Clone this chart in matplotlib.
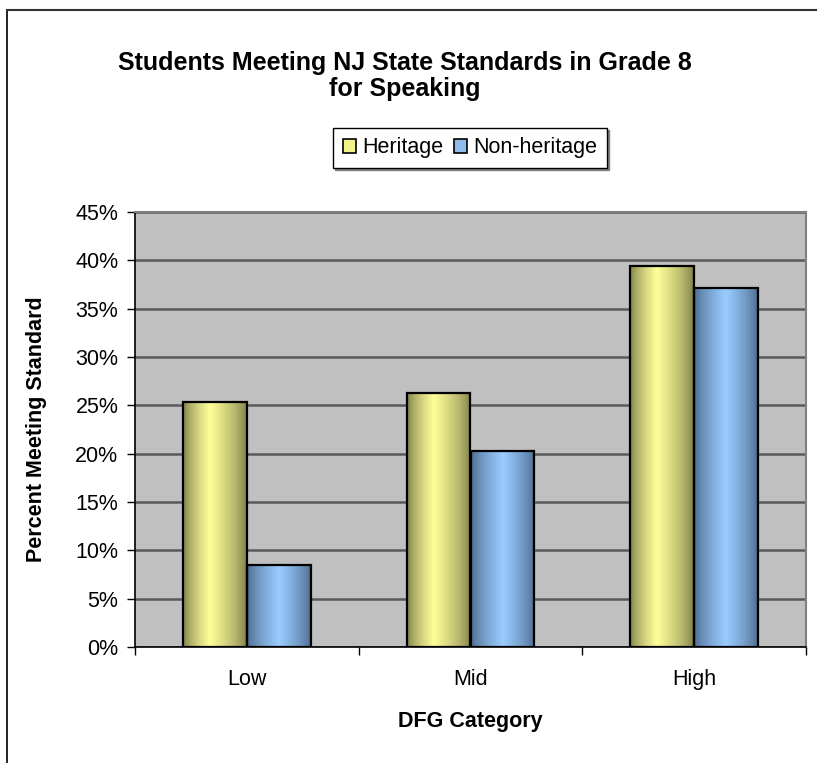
import numpy as np
import matplotlib
matplotlib.use("Agg")
import matplotlib.pyplot as plt
from matplotlib.patches import Patch
from matplotlib.lines import Line2D
from matplotlib.colors import to_rgb

plt.rcParams['font.family'] = ['Liberation Sans', 'DejaVu Sans']

categories = ["Low", "Mid", "High"]
series_names = ["Heritage", "Non-heritage"]
heritage = [25.3, 26.3, 39.4]
non_heritage = [8.5, 20.3, 37.1]
y_ticks = [0, 5, 10, 15, 20, 25, 30, 35, 40, 45]
y_tick_labels = [f"{t}%" for t in y_ticks]

title_lines = ["Students Meeting NJ State Standards in Grade 8", "for Speaking"]
x_label = "DFG Category"
y_label = "Percent Meeting Standard"

W, H = 817, 763
fig = plt.figure(figsize=(W / 100, H / 100), dpi=100)
fig.patch.set_facecolor("white")

left, right, top, bottom = 135, 806, 212, 647
ax = fig.add_axes([left / W, 1 - bottom / H, (right - left) / W, (bottom - top) / H])
ax.set_facecolor("#C0C0C0")

x = np.arange(len(categories))
bw = 1 / 3.5

light_y, dark_y = "#FFFF99", "#7A7A48"
light_b, dark_b = "#99CCFF", "#4A6688"


def grad_img(light, dark, peak):
    n = 200
    t = np.linspace(0, 1, n)
    w = np.where(t < peak, t / peak, (1 - t) / (1 - peak))
    w = np.clip(w, 0, 1) ** 0.7
    L = np.array(to_rgb(light))
    D = np.array(to_rgb(dark))
    row = D[None, :] + (L - D)[None, :] * w[:, None]
    return row[None, :, :]


bars_h = ax.bar(x - bw / 2, heritage, bw, color="none", edgecolor="black", linewidth=1.6, zorder=4)
bars_n = ax.bar(x + bw / 2, non_heritage, bw, color="none", edgecolor="black", linewidth=1.6, zorder=4)

for bars, light, dark, peak in [(bars_h, light_y, dark_y, 0.42), (bars_n, light_b, dark_b, 0.5)]:
    img = grad_img(light, dark, peak)
    for p in bars:
        x0, y0 = p.get_x(), p.get_y()
        ax.imshow(img, extent=[x0, x0 + p.get_width(), y0, y0 + p.get_height()],
                  aspect="auto", zorder=3, interpolation="bilinear")

fs = 15.5
ax.set_xlim(-0.5, len(categories) - 0.5)
ax.set_ylim(0, 45)
ax.set_yticks(y_ticks)
ax.set_yticklabels(y_tick_labels, fontsize=fs)
ax.set_xticks(x)
ax.set_xticklabels(categories, fontsize=fs)
ax.set_xticks([-0.5, 0.5, 1.5, 2.5], minor=True)
ax.tick_params(axis="x", which="major", length=0, pad=16)
ax.tick_params(axis="x", which="minor", length=6, width=1, direction="out", color="black")
ax.tick_params(axis="y", length=6, width=1, direction="out", color="black", pad=6)

ax.yaxis.grid(True, color="#5A5A5A", linewidth=1.8, zorder=1)
ax.set_axisbelow(True)
for s in ["top", "right"]:
    ax.spines[s].set_color("#808080")
    ax.spines[s].set_linewidth(1.5)
for s in ["left", "bottom"]:
    ax.spines[s].set_color("black")
    ax.spines[s].set_linewidth(1.2)

ax.set_xlabel(x_label, fontsize=fs, fontweight="bold")
ax.xaxis.set_label_coords(0.5, (bottom - 721) / (bottom - top))
ax.xaxis.label.set_va("center")
ax.set_ylabel(y_label, fontsize=fs, fontweight="bold")
ax.yaxis.set_label_coords((37 - left) / (right - left), 0.5)
ax.yaxis.label.set_va("center")

for line, ypx in zip(title_lines, [63, 89]):
    fig.text(405 / W, 1 - ypx / H, line, ha="center", va="center", fontsize=18,
             fontweight="bold")

handles = [Patch(facecolor="#F2F28A", edgecolor="black", linewidth=1.2),
           Patch(facecolor="#8FBCEB", edgecolor="black", linewidth=1.2)]
leg = fig.legend(handles, series_names, loc="center", bbox_to_anchor=(470 / W, 1 - 148 / H),
                 ncol=2, fontsize=fs, frameon=True, fancybox=False, edgecolor="black",
                 handlelength=0.6, handleheight=0.6, handletextpad=0.3, columnspacing=0.5,
                 borderpad=0.45, shadow={"ox": 1.5, "oy": -1.5, "color": "#808080", "alpha": 1})
leg.get_frame().set_linewidth(1.0)

fig.add_artist(Line2D([7 / W, 7 / W], [-0.1, 1 - 10 / H], transform=fig.transFigure,
                      color="black", linewidth=1.2))
fig.add_artist(Line2D([7 / W, 1.1], [1 - 10 / H, 1 - 10 / H], transform=fig.transFigure,
                      color="#333333", linewidth=1.5))

fig.savefig("out.png", dpi=100)
